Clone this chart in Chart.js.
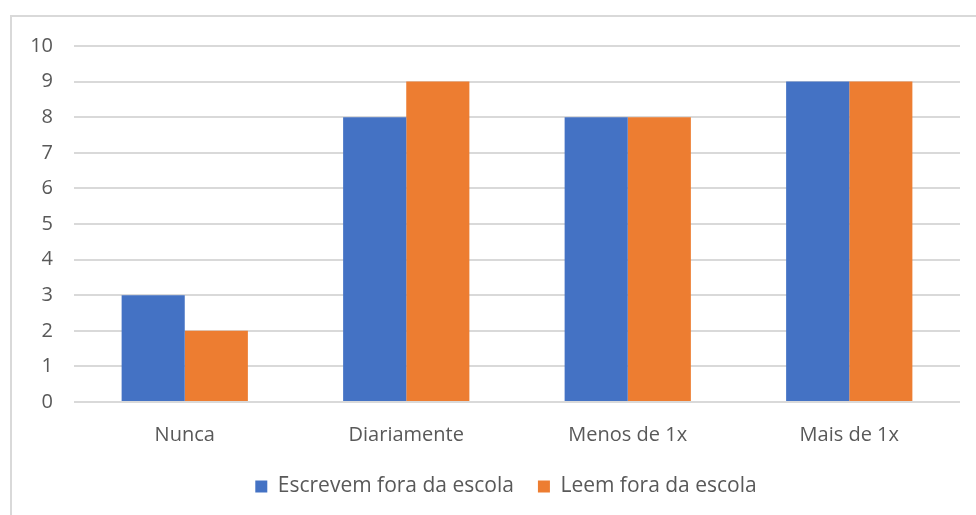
<!DOCTYPE html>
<html>
<head>
<meta charset="utf-8">
<script src="https://cdn.jsdelivr.net/npm/chart.js@4/dist/chart.umd.min.js"></script>
<style>
  html, body { margin: 0; padding: 0; background: #fff; }
  #wrap { width: 976px; height: 515px; position: relative; }
</style>
</head>
<body>
<div id="wrap"><canvas id="graph0" width="976" height="515"></canvas></div>
<script>
// frequência de leitura / escrita fora da escola
var categorias  = ["Nunca", "Diariamente", "Menos de 1x", "Mais de 1x"];
var escrevem    = [3, 8, 8, 9];
var leem        = [2, 9, 8, 9];
var y_ticks     = [0, 1, 2, 3, 4, 5, 6, 7, 8, 9, 10];

var FONTE = "'Open Sans', sans-serif";
var CINZA = "#595959";

// moldura cinza do gráfico (só esquerda e topo aparecem)
var moldura = {
    id: "moldura",
    beforeDraw: function(chart){
        let ctx = chart.ctx;
        ctx.save();
        ctx.fillStyle = "#fff";
        ctx.fillRect(0, 0, chart.width, chart.height);
        ctx.strokeStyle = "#d9d9d9";
        ctx.lineWidth = 2;
        ctx.beginPath();
        ctx.moveTo(11, chart.height);
        ctx.lineTo(11, 16);
        ctx.lineTo(chart.width, 16);
        ctx.stroke();
        ctx.restore();
    },
    // a moldura continua à direita, então a legenda fica um pouco deslocada
    afterUpdate: function(chart){
        if (chart.legend) {
            chart.legend.left  += 26;
            chart.legend.right += 26;
        }
    }
};

var CHART0 = new Chart(document.getElementById("graph0"), {
    type: "bar",
    data: {
        labels: categorias,
        datasets: [
            {
                label: "Escrevem fora da escola",
                data: escrevem,
                backgroundColor: "#4472C4",
                categoryPercentage: 0.57,
                barPercentage: 1.0
            },
            {
                label: "Leem fora da escola",
                data: leem,
                backgroundColor: "#ED7D31",
                categoryPercentage: 0.57,
                barPercentage: 1.0
            }
        ]
    },
    options: {
        responsive: false,
        animation: false,
        layout: { padding: { top: 46, right: 16, left: 0, bottom: 8 } },
        scales: {
            x: {
                grid: { display: false, drawTicks: false },
                border: { display: false },
                afterFit: function(scale){ scale.height = 50; },
                ticks: { color: CINZA, font: { family: FONTE, size: 20 }, padding: 21 }
            },
            y: {
                min: 0,
                max: 10,
                afterFit: function(scale){ scale.width = 74; },
                afterBuildTicks: function(scale){
                    scale.ticks = y_ticks.map(function(v){ return { value: v }; });
                },
                grid: { color: "#d9d9d9", lineWidth: 2, drawTicks: false },
                border: { display: false },
                ticks: { color: CINZA, font: { family: FONTE, size: 20 }, padding: 21 }
            }
        },
        plugins: {
            legend: {
                position: "bottom",
                labels: {
                    color: CINZA,
                    font: { family: FONTE, size: 21 },
                    boxWidth: 12,
                    boxHeight: 12,
                    padding: 24
                }
            },
            tooltip: { enabled: false }
        }
    },
    plugins: [moldura]
});
</script>
</body>
</html>
